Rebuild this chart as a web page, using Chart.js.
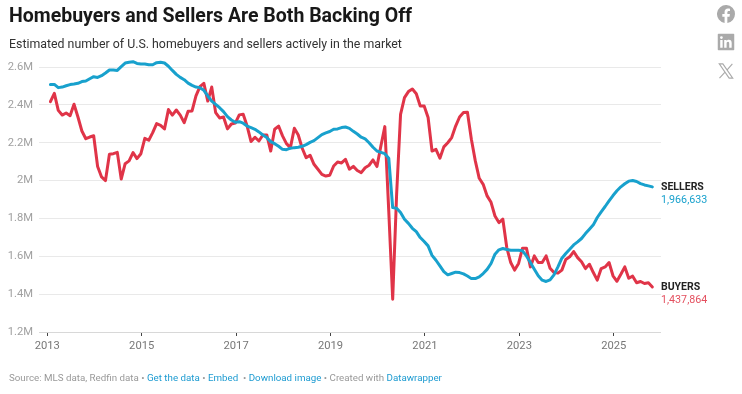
<!DOCTYPE html>
<html lang="en">
<head>
    <meta charset="UTF-8">
    <title>Homebuyers and Sellers Are Both Backing Off</title>
    <script src="https://cdn.jsdelivr.net/npm/chart.js"></script>
    <style>
        html, body {
            margin: 0;
            padding: 0;
            background: #fff;
            font-family: Roboto, Arial, sans-serif;
        }
        #page {
            position: relative;
            width: 742px;
            height: 394px;
            overflow: hidden;
        }
        #chart {
            position: absolute;
            left: 0;
            top: 0;
        }
        .title {
            position: absolute;
            left: 9px;
            top: 3px;
            font-size: 19.5px;
            line-height: 26px;
            font-weight: 700;
            color: #181818;
            white-space: nowrap;
        }
        .subtitle {
            position: absolute;
            left: 9px;
            top: 35px;
            font-size: 12.35px;
            line-height: 18px;
            color: #333;
            white-space: nowrap;
        }
        .footer {
            position: absolute;
            left: 9px;
            top: 371px;
            font-size: 9.75px;
            line-height: 14px;
            color: #999;
            white-space: nowrap;
        }
        .footer a {
            color: #1d9bd1;
            text-decoration: none;
        }
        .icon {
            position: absolute;
            left: 717px;
            width: 18px;
            height: 18px;
        }
    </style>
</head>
<body>
<div id="page">
    <canvas id="chart" width="742" height="394"></canvas>
    <div class="title">Homebuyers and Sellers Are Both Backing Off</div>
    <div class="subtitle">Estimated number of U.S. homebuyers and sellers actively in the market</div>
    <div class="footer">Source: MLS data, Redfin data • <a>Get the data</a> • <a>Embed</a> &nbsp;• <a>Download image</a> • Created with <a>Datawrapper</a></div>

    <svg class="icon" style="top:5px" viewBox="0 0 24 24"><path fill="#aaa" d="M24 12a12 12 0 1 0-13.9 11.9v-8.4H7.1V12h3V9.400c0-3 1.800-4.700 4.500-4.700 1.300 0 2.700.2 2.700.2v3h-1.500c-1.500 0-2 .9-2 1.900V12h3.400l-.5 3.500h-2.900v8.400A12 12 0 0 0 24 12z"/></svg>
    <svg class="icon" style="top:33px" viewBox="0 0 24 24"><path fill="#aaa" d="M22 1H2a1 1 0 0 0-1 1v20a1 1 0 0 0 1 1h20a1 1 0 0 0 1-1V2a1 1 0 0 0-1-1zM7.500 19.500H4.300V9.300h3.200zM5.900 7.900a1.800 1.800 0 1 1 0-3.700 1.800 1.800 0 0 1 0 3.700zm13.600 11.600h-3.200v-5c0-1.200 0-2.700-1.600-2.700s-1.900 1.300-1.900 2.600v5.100H9.600V9.300h3v1.400c.4-.8 1.500-1.700 3.100-1.700 3.300 0 3.900 2.200 3.900 5z"/></svg>
    <svg class="icon" style="top:62px" viewBox="0 0 24 24"><path fill="none" stroke="#aaa" stroke-width="1.500" d="M3 2.500h4.800l13.200 19h-4.800zM20.500 2.500l-7.600 8.600M10.700 13.600l-7.400 7.900"/></svg>
</div>

<script>
    // Monthly estimates in millions, first value is Feb 2013
    const firstYear = 2013;
    const sellers = [
        2.508, 2.508, 2.491, 2.494, 2.501, 2.507, 2.51, 2.514, 2.523, 2.526, 2.538,
        2.549, 2.545, 2.554, 2.568, 2.584, 2.584, 2.582, 2.602, 2.621, 2.625, 2.628, 2.619,
        2.616, 2.616, 2.612, 2.612, 2.623, 2.625, 2.621, 2.604, 2.582, 2.561, 2.545, 2.533,
        2.515, 2.503, 2.494, 2.491, 2.477, 2.447, 2.42, 2.403, 2.385, 2.364, 2.338, 2.32,
        2.308, 2.311, 2.303, 2.288, 2.28, 2.271, 2.257, 2.241, 2.227, 2.206, 2.195, 2.181,
        2.165, 2.163, 2.171, 2.174, 2.176, 2.181, 2.19, 2.202, 2.211, 2.227, 2.243, 2.252,
        2.259, 2.271, 2.273, 2.28, 2.283, 2.276, 2.26, 2.246, 2.229, 2.22, 2.2, 2.176,
        2.156, 2.149, 2.142, 2.118, 1.857, 1.854, 1.831, 1.796, 1.774, 1.748, 1.73, 1.699,
        1.678, 1.655, 1.605, 1.579, 1.549, 1.519, 1.502, 1.509, 1.516, 1.514, 1.507, 1.496,
        1.482, 1.482, 1.491, 1.509, 1.531, 1.562, 1.611, 1.634, 1.641, 1.636, 1.632, 1.632,
        1.632, 1.629, 1.602, 1.567, 1.532, 1.497, 1.474, 1.467, 1.475, 1.502, 1.544, 1.59,
        1.615, 1.637, 1.66, 1.676, 1.694, 1.72, 1.743, 1.766, 1.805, 1.835, 1.863, 1.893,
        1.921, 1.946, 1.967, 1.983, 1.997, 2.0, 1.995, 1.984, 1.977, 1.972, 1.966633
    ];
    const buyers = [
        2.417, 2.461, 2.371, 2.346, 2.357, 2.343, 2.403, 2.336, 2.262, 2.221, 2.23,
        2.237, 2.074, 2.019, 2.0, 2.139, 2.142, 2.149, 2.008, 2.089, 2.104, 2.148, 2.116,
        2.142, 2.223, 2.213, 2.253, 2.301, 2.292, 2.273, 2.375, 2.346, 2.373, 2.346, 2.306,
        2.366, 2.368, 2.447, 2.496, 2.514, 2.42, 2.494, 2.359, 2.331, 2.336, 2.273, 2.299,
        2.304, 2.347, 2.35, 2.288, 2.206, 2.229, 2.209, 2.241, 2.241, 2.156, 2.271, 2.288,
        2.236, 2.195, 2.174, 2.276, 2.241, 2.171, 2.121, 2.134, 2.086, 2.06, 2.033, 2.024,
        2.028, 2.077, 2.098, 2.093, 2.112, 2.06, 2.075, 2.053, 2.042, 2.068, 2.081, 2.109,
        2.074, 2.183, 2.285, 1.84, 1.373, 1.928, 2.35, 2.438, 2.47, 2.484, 2.459, 2.394,
        2.394, 2.333, 2.156, 2.165, 2.118, 2.178, 2.2, 2.227, 2.288, 2.336, 2.359, 2.361,
        2.218, 2.104, 2.012, 1.98, 1.919, 1.885, 1.813, 1.778, 1.796, 1.646, 1.567, 1.527,
        1.562, 1.643, 1.643, 1.544, 1.602, 1.567, 1.567, 1.602, 1.537, 1.514, 1.511, 1.527,
        1.583, 1.597, 1.625, 1.593, 1.571, 1.535, 1.558, 1.514, 1.474, 1.535, 1.544, 1.567,
        1.497, 1.468, 1.505, 1.544, 1.484, 1.495, 1.46, 1.467, 1.456, 1.46, 1.437864
    ];
    const yearTicks = [2013, 2015, 2017, 2019, 2021, 2023, 2025];
    const valueTicks = [1.2, 1.4, 1.6, 1.8, 2, 2.2, 2.4, 2.6];
    const sellerColor = '#18a1cd';
    const buyerColor = '#e03448';

    function toPoints(values) {
        return values.map((v, i) => ({ x: firstYear + (i + 0.8) / 12, y: v }));
    }

    // Name and latest value next to the end of each line
    const endLabels = {
        id: 'endLabels',
        afterDatasetsDraw(chart) {
            const ctx = chart.ctx;
            const xScale = chart.scales.x;
            const yScale = chart.scales.y;
            const left = xScale.right;
            [
                { name: 'SELLERS', values: sellers, color: sellerColor },
                { name: 'BUYERS', values: buyers, color: '#e4505f' }
            ].forEach(item => {
                const last = item.values[item.values.length - 1];
                const y = yScale.getPixelForValue(last);
                ctx.save();
                ctx.textAlign = 'left';
                ctx.textBaseline = 'middle';
                ctx.font = '700 10.5px Roboto';
                ctx.fillStyle = '#222';
                ctx.fillText(item.name, left, y);
                ctx.font = '400 10.7px Roboto';
                ctx.fillStyle = item.color;
                ctx.fillText(Math.round(last * 1000000).toLocaleString('en-US'), left, y + 13);
                ctx.restore();
            });
        }
    };

    new Chart(document.getElementById('chart'), {
        type: 'line',
        data: {
            datasets: [
                { label: 'Sellers', data: toPoints(sellers), borderColor: sellerColor, borderWidth: 3 },
                { label: 'Buyers', data: toPoints(buyers), borderColor: buyerColor, borderWidth: 3 }
            ]
        },
        options: {
            responsive: false,
            animation: false,
            clip: false,
            layout: { padding: { top: 67, right: 81, bottom: 38, left: 0 } },
            elements: {
                point: { radius: 0 },
                line: { tension: 0, borderJoinStyle: 'round', borderCapStyle: 'round' }
            },
            plugins: {
                legend: { display: false },
                tooltip: { enabled: false }
            },
            scales: {
                x: {
                    type: 'linear',
                    min: 2012.825,
                    max: 2026,
                    afterBuildTicks: scale => { scale.ticks = yearTicks.map(v => ({ value: v })); },
                    afterFit: scale => { scale.height = 24; },
                    border: { display: false },
                    grid: { drawOnChartArea: false, drawTicks: true, tickLength: 4, color: '#444', lineWidth: 1 },
                    ticks: {
                        autoSkip: false,
                        maxRotation: 0,
                        padding: 3,
                        color: '#777',
                        font: { family: 'Roboto', size: 11.2 },
                        callback: v => String(v)
                    }
                },
                y: {
                    min: 1.2,
                    max: 2.6,
                    afterBuildTicks: scale => { scale.ticks = valueTicks.map(v => ({ value: v })); },
                    afterFit: scale => { scale.width = 39; },
                    border: { display: false },
                    grid: {
                        drawTicks: false,
                        lineWidth: 1,
                        color: ctx => ctx.tick && ctx.tick.value === 1.2 ? '#d8d8d8' : '#e9e9e9'
                    },
                    ticks: {
                        padding: 6,
                        color: '#a0a0a0',
                        font: { family: 'Roboto', size: 11.2 },
                        callback: v => v + 'M'
                    }
                }
            }
        },
        plugins: [endLabels]
    });
</script>
</body>
</html>
